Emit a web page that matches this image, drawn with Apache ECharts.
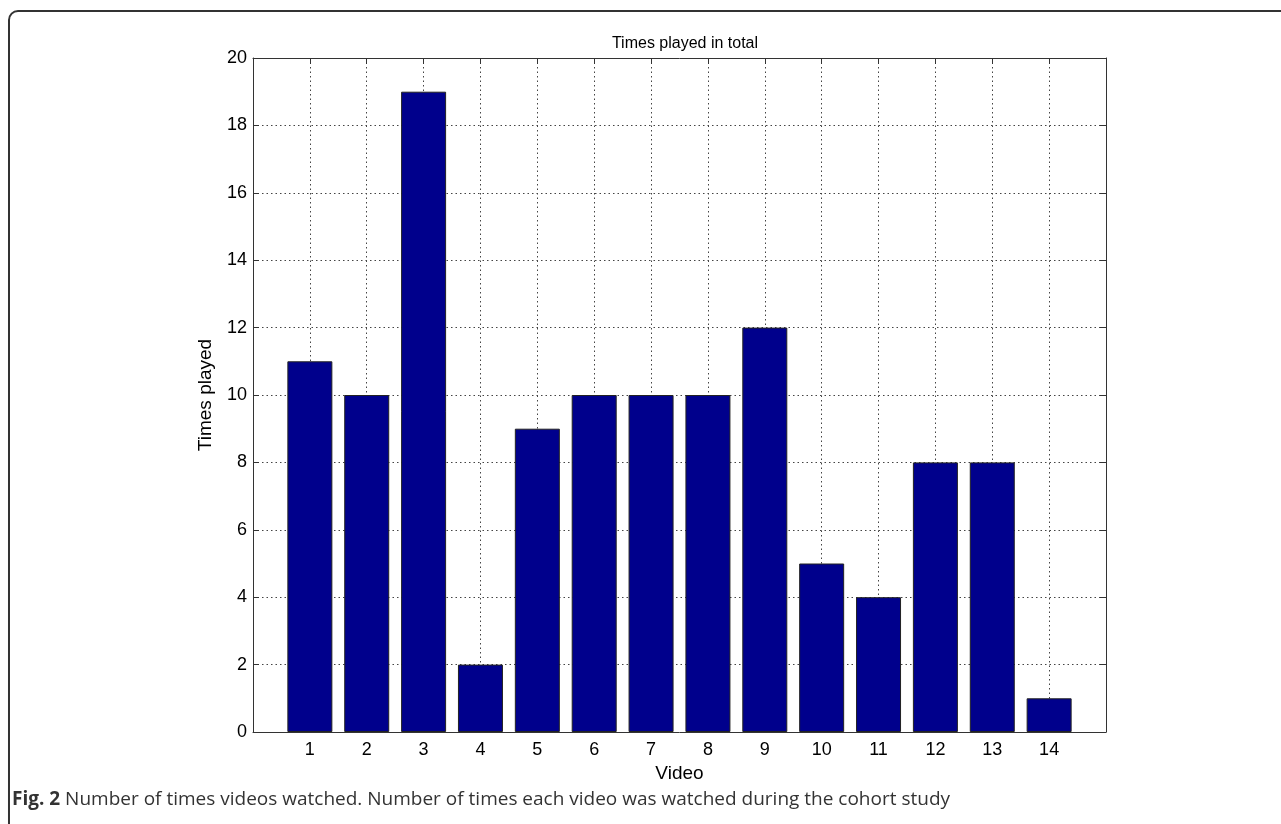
<!DOCTYPE html>
<html>
<head>
<meta charset="utf-8">
<script src="https://cdn.jsdelivr.net/npm/echarts@6/dist/echarts.min.js"></script>
<style>
html,body{margin:0;padding:0;background:#fff;}
#chart{width:1281px;height:824px;}
</style>
</head>
<body>
<div id="chart"></div>
<script>
const videos = [1,2,3,4,5,6,7,8,9,10,11,12,13,14];
const timesPlayed = [11,10,19,2,9,10,10,10,12,5,4,8,8,1];
const yTicks = [0,2,4,6,8,10,12,14,16,18,20];
const chartTitle = 'Times played in total';
const xName = 'Video';
const yName = 'Times played';
const captionBold = 'Fig. 2';
const captionText = ' Number of times videos watched. Number of times each video was watched during the cohort study';

const chart = echarts.init(document.getElementById('chart'));
const font = 'Liberation Sans, Arial, Helvetica, sans-serif';
const gridLine = {show:true, lineStyle:{type:[1.5,3], color:'#444', width:1}};
const labelStyle = {color:'#000', fontSize:18, fontFamily:font};
const axLine = {show:true, onZero:false, lineStyle:{color:'#333', width:1}};

chart.setOption({
  animation:false,
  backgroundColor:'#fff',
  title:{
    text:chartTitle, left:680, top:31, textAlign:'center',
    textStyle:{fontSize:16, fontWeight:'normal', color:'#000', fontFamily:font}
  },
  grid:{left:253, right:175, top:58, bottom:92, containLabel:false},
  xAxis:[{
    type:'value', min:0, max:15, interval:1,
    name:xName, nameLocation:'middle', nameGap:32,
    nameTextStyle:{fontSize:19, color:'#000', fontFamily:font},
    axisLine:axLine,
    axisTick:{show:true, inside:true, length:6, lineStyle:{color:'#333'}, customValues:videos},
    axisLabel:Object.assign({margin:9, customValues:videos, formatter:v => String(v)}, labelStyle),
    splitLine:gridLine
  },{
    type:'value', min:0, max:15, interval:1, position:'top',
    axisLine:axLine,
    axisTick:{show:true, inside:true, length:6, lineStyle:{color:'#333'}, customValues:videos},
    axisLabel:{show:false}, splitLine:{show:false}
  }],
  yAxis:[{
    type:'value', min:yTicks[0], max:yTicks[yTicks.length-1], interval:2,
    name:yName, nameLocation:'middle', nameGap:38, nameRotate:90,
    nameTextStyle:{fontSize:19, color:'#000', fontFamily:font},
    axisLine:axLine,
    axisTick:{show:true, inside:true, length:6, lineStyle:{color:'#333'}},
    axisLabel:Object.assign({margin:6}, labelStyle),
    splitLine:gridLine
  },{
    type:'value', min:yTicks[0], max:yTicks[yTicks.length-1], interval:2, position:'right',
    axisLine:axLine,
    axisTick:{show:true, inside:true, length:6, lineStyle:{color:'#333'}},
    axisLabel:{show:false}, splitLine:{show:false}
  }],
  series:[{
    type:'bar',
    data:videos.map((v,i)=>[v,timesPlayed[i]]),
    barWidth:45,
    itemStyle:{color:'#00008C', borderColor:'#222', borderWidth:1},
    z:3
  }],
  graphic:[
    {type:'rect', shape:{x:9, y:11, width:1300, height:830, r:9},
     style:{fill:'none', stroke:'#333', lineWidth:2}, silent:true},
    {type:'text', left:12, top:790,
     style:{rich:{b:{fontWeight:'bold', fontSize:19, fill:'#333', fontFamily:'Open Sans, sans-serif'},
                  n:{fontSize:19, fill:'#333', fontFamily:'Open Sans, sans-serif'}},
            text:'{b|'+captionBold+'}{n|'+captionText+'}'}}
  ]
});
</script>
</body>
</html>
